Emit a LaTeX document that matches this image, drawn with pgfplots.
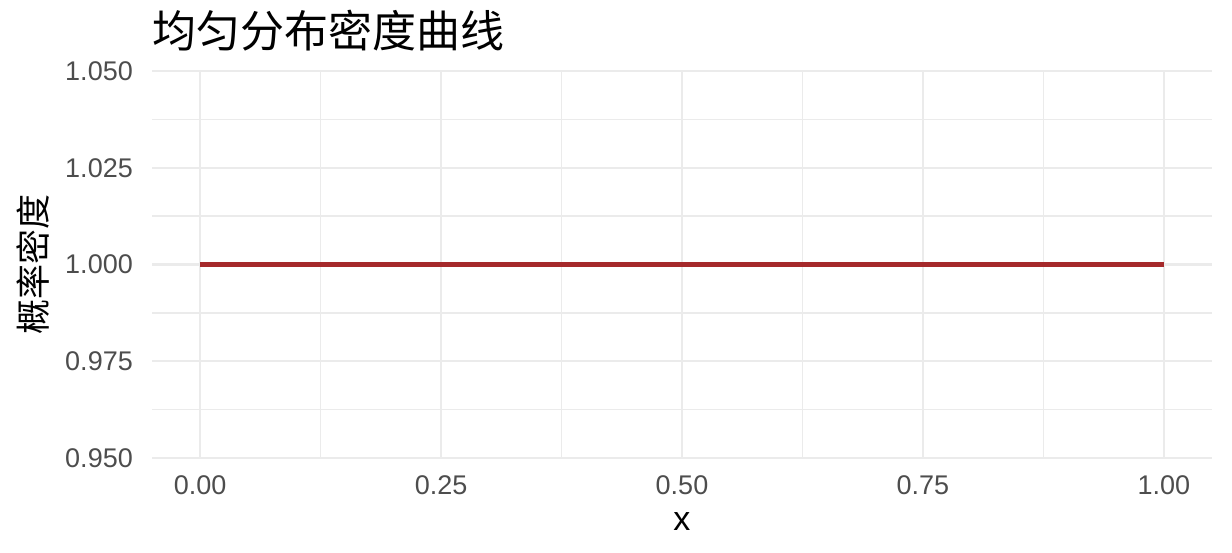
\documentclass[border=0pt]{standalone}
\usepackage{fontspec}
\setmainfont{Liberation Sans}
\newfontfamily\cjk{Noto Sans CJK SC}
\usepackage{pgfplots}
\pgfplotsset{compat=1.18}
\definecolor{gridc}{HTML}{EBEBEB}
\definecolor{tickc}{HTML}{4D4D4D}
\definecolor{linec}{HTML}{A5292B}
\begin{document}
\begin{tikzpicture}[x=1pt,y=1pt]
\useasboundingbox (0,0) rectangle (1232,553);
\begin{axis}[at={(152pt,95pt)}, anchor=south west, scale only axis,
  width=1060pt, height=387pt,
  xmin=-0.05, xmax=1.05, ymin=0.95, ymax=1.05,
  axis line style={draw=none}, tick style={draw=none},
  xtick={0,0.25,0.5,0.75,1}, xticklabels={0.00,0.25,0.50,0.75,1.00},
  ytick={0.95,0.975,1,1.025,1.05}, yticklabels={0.950,0.975,1.000,1.025,1.050},
  minor xtick={0.125,0.375,0.625,0.875},
  minor ytick={0.9625,0.9875,1.0125,1.0375},
  grid=both,
  major grid style={gridc, line width=2.4pt},
  minor grid style={gridc, line width=1.3pt},
  tick label style={font=\fontsize{27}{32}\selectfont, text=tickc},
  xticklabel style={anchor=base, inner sep=0pt, yshift=-37pt},
  yticklabel style={anchor=east, inner sep=0pt, xshift=-19pt},
  every axis x label/.style={at={(rel axis cs:0.5,0)}, anchor=center, yshift=-64pt, font=\fontsize{34}{40}\selectfont},
  every axis y label/.style={at={(rel axis cs:0,0.5)}, xshift=-119pt, rotate=90, anchor=center, font=\fontsize{35}{40}\selectfont\cjk},
  title style={at={(rel axis cs:0,1)}, anchor=base west, inner sep=0pt, yshift=17pt, font=\fontsize{44}{50}\selectfont\cjk},
  title={均匀分布密度曲线},
  xlabel={x}, ylabel={概率密度},
  clip=false,
]
\addplot[linec, line width=4.5pt] coordinates {(0,1) (1,1)};
\end{axis}
\end{tikzpicture}
\end{document}
